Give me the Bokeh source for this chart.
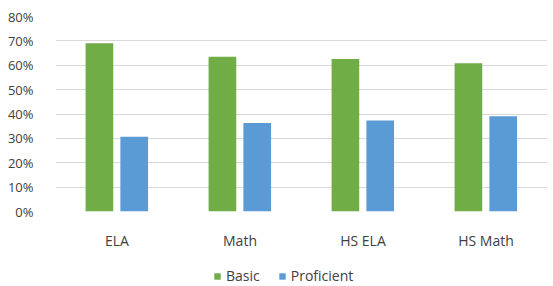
from bokeh.plotting import figure
from bokeh.layouts import column
from bokeh.models import (ColumnDataSource, FactorRange, Range1d, FixedTicker,
                          NumeralTickFormatter, Legend, LegendItem)
from bokeh.transform import dodge
from bokeh.embed import file_html
from bokeh.resources import INLINE

categories = ["ELA", "Math", "HS ELA", "HS Math"]
basic = [0.69, 0.635, 0.626, 0.608]
proficient = [0.307, 0.363, 0.373, 0.391]
y_ticks = [0, 0.1, 0.2, 0.3, 0.4, 0.5, 0.6, 0.7, 0.8]
series_names = ["Basic", "Proficient"]
series_colors = ["#70AD47", "#5B9BD5"]

FONT = "Open Sans"
TXT = "#404040"

src = ColumnDataSource(dict(cat=categories, basic=basic, prof=proficient))

p = figure(width=553, height=252, x_range=FactorRange(*categories),
           y_range=Range1d(0, 0.8), output_backend="svg", toolbar_location=None,
           min_border_left=55, min_border_right=6, min_border_top=16,
           min_border_bottom=33)
p.outline_line_color = None
p.background_fill_color = "white"
p.border_fill_color = "white"

p.vbar(x=dodge("cat", -0.143, range=p.x_range), top="basic", width=0.225,
       source=src, color=series_colors[0], line_color=None)
p.vbar(x=dodge("cat", 0.14, range=p.x_range), top="prof", width=0.225,
       source=src, color=series_colors[1], line_color=None)

p.yaxis.ticker = FixedTicker(ticks=y_ticks)
p.yaxis.formatter = NumeralTickFormatter(format="0%")
p.yaxis.axis_line_color = None
p.yaxis.major_tick_line_color = None
p.yaxis.minor_tick_line_color = None
p.yaxis.major_label_text_font = FONT
p.yaxis.major_label_text_font_size = "13px"
p.yaxis.major_label_text_color = TXT
p.yaxis.major_label_standoff = 16

p.xaxis.axis_line_color = None
p.xaxis.major_tick_line_color = None
p.xaxis.major_label_text_font = FONT
p.xaxis.major_label_text_font_size = "14px"
p.xaxis.major_label_text_color = TXT
p.xaxis.major_label_standoff = 13

p.xgrid.grid_line_color = None
p.ygrid.grid_line_color = "#D9D9D9"
p.ygrid.grid_line_width = 1
p.ygrid.ticker = FixedTicker(ticks=y_ticks)

# legend strip below the chart
lf = figure(width=553, height=34, x_range=Range1d(0, 1), y_range=Range1d(0, 1),
            output_backend="svg", toolbar_location=None,
            min_border_left=0, min_border_right=0, min_border_top=0,
            min_border_bottom=0)
lf.axis.visible = False
lf.grid.grid_line_color = None
lf.outline_line_color = None
lf.border_fill_color = "white"
items = []
for name, col in zip(series_names, series_colors):
    # zero-height placeholder bar so the legend swatch is drawn
    dummy = ColumnDataSource(dict(x=[0.5], top=[0.0]))
    r = lf.vbar(x="x", top="top", width=0.0, source=dummy, color=col,
                line_color=None)
    items.append(LegendItem(label=name, renderers=[r]))

legend = Legend(items=items, orientation="horizontal", location=(158, 1),
                label_text_font=FONT, label_text_font_size="14px",
                label_text_color=TXT, glyph_width=8, glyph_height=8,
                label_height=14, spacing=18, label_standoff=5, padding=0,
                margin=0, border_line_color=None, background_fill_alpha=0)
lf.add_layout(legend)

layout = column(p, lf, spacing=0)
open("out.html", "w").write(file_html(layout, INLINE))
